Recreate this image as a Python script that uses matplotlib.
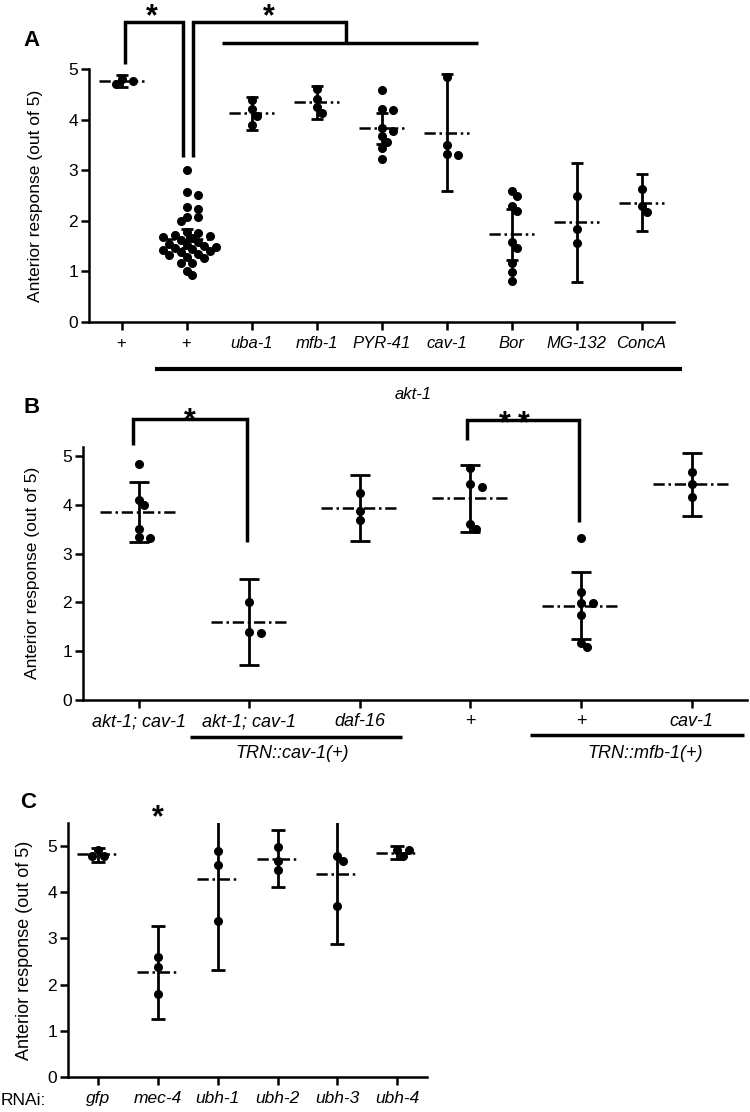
import numpy as np
import matplotlib.pyplot as plt

plt.rcParams['font.family'] = ['Liberation Sans', 'DejaVu Sans']

# panel A: akt-1 background + treatments
labels_a = ['+', '+', 'uba-1', 'mfb-1', 'PYR-41', 'cav-1', 'Bor', 'MG-132', 'ConcA']
pts_a = [
    [4.80, 4.70, 4.76],
    [3.00, 2.56, 2.51, 2.28, 2.23, 2.08, 2.07, 2.00,
     1.78, 1.75, 1.72, 1.70, 1.68, 1.66, 1.62, 1.58, 1.55, 1.52, 1.50,
     1.48, 1.46, 1.44, 1.42, 1.40, 1.38, 1.35, 1.32, 1.29, 1.26,
     1.16, 1.16, 1.01, 0.93],
    [4.38, 4.21, 4.08, 3.89],
    [4.61, 4.41, 4.24, 4.13],
    [4.59, 4.20, 4.18, 3.83, 3.77, 3.67, 3.56, 3.44, 3.23],
    [4.84, 3.50, 3.33, 3.31],
    [2.59, 2.50, 2.29, 2.19, 1.58, 1.47, 1.17, 0.99, 0.82],
    [2.50, 1.84, 1.57],
    [2.62, 2.29, 2.17],
]
mean_a = [4.76, 1.65, 4.13, 4.34, 3.83, 3.74, 1.74, 1.98, 2.36]
lo_a = [4.64, 1.46, 3.80, 4.01, 3.51, 2.58, 1.23, 0.79, 1.80]
hi_a = [4.875, 1.84, 4.45, 4.67, 4.13, 4.91, 2.24, 3.15, 2.92]

# panel B: rescue by TRN expression
labels_b = ['akt-1; cav-1', 'akt-1; cav-1', 'daf-16', '+', '+', 'cav-1']
pts_b = [
    [4.84, 4.11, 4.00, 3.50, 3.34, 3.32],
    [2.00, 1.40, 1.36],
    [4.24, 3.87, 3.70],
    [4.76, 4.44, 4.37, 3.61, 3.50],
    [3.32, 2.21, 1.99, 1.99, 1.73, 1.17, 1.09],
    [4.67, 4.44, 4.16],
]
mean_b = [3.85, 1.59, 3.93, 4.14, 1.93, 4.43]
lo_b = [3.24, 0.71, 3.27, 3.45, 1.25, 3.78]
hi_b = [4.47, 2.48, 4.61, 4.82, 2.62, 5.07]

# panel C: RNAi
labels_c = ['gfp', 'mec-4', 'ubh-1', 'ubh-2', 'ubh-3', 'ubh-4']
pts_c = [
    [4.91, 4.80, 4.78],
    [2.59, 2.38, 1.80],
    [4.89, 4.59, 3.38],
    [4.99, 4.69, 4.49],
    [4.80, 4.69, 3.70],
    [4.91, 4.91, 4.80],
]
mean_c = [4.83, 2.27, 4.30, 4.73, 4.40, 4.86]
lo_c = [4.67, 1.25, 2.32, 4.11, 2.88, 4.72]
hi_c = [4.97, 3.28, 6.28, 5.35, 5.92, 5.00]

W, H = 750, 1112
fig = plt.figure(figsize=(W / 100, H / 100), dpi=100)


def px_rect(left, top, right, bottom):
    return [left / W, 1 - bottom / H, (right - left) / W, (bottom - top) / H]


def swarm(ax, x0, vals, diam=6.8, step=5.8):
    # simple beeswarm in pixel space, like Prism scatter
    tr = ax.transData
    placed = []
    xs = np.zeros(len(vals))
    order = np.argsort(-np.asarray(vals))
    cands = [0]
    for k in range(1, 12):
        cands += [k, -k]
    for i in order:
        px0, py = tr.transform((x0, vals[i]))
        for k in cands:
            px = px0 + k * step
            if all((px - qx) ** 2 + (py - qy) ** 2 >= diam ** 2 for qx, qy in placed):
                break
        placed.append((px, py))
        xs[i] = tr.inverted().transform((px, py))[0]
    return xs


def setup(ax, ylim, nx, labels, fs, ylab_x, ylab_fs):
    ax.set_xlim(-0.5, nx - 0.5)
    ax.set_ylim(*ylim)
    ax.spines[['top', 'right']].set_visible(False)
    for s in ['left', 'bottom']:
        ax.spines[s].set_linewidth(1.8)
    ax.set_yticks(range(6))
    ax.set_xticks(range(nx))
    ax.set_xticklabels(labels, fontsize=fs)
    for t in ax.get_xticklabels():
        t.set_style('normal' if t.get_text() == '+' else 'italic')
    ax.tick_params(axis='both', width=1.8, length=6, labelsize=12.5)
    ax.tick_params(axis='x', pad=4, labelsize=fs)
    ax.tick_params(axis='y', pad=2)
    ax.set_ylabel('Anterior response (out of 5)', fontsize=ylab_fs)
    ax.yaxis.set_label_coords(ylab_x, 0.5)


def draw(ax, pts, means, lo, hi, capsize):
    for i, vals in enumerate(pts):
        xs = swarm(ax, i, vals)
        ax.plot(xs, vals, 'o', color='k', ms=5.5, zorder=3)
        ax.errorbar([i], [means[i]], yerr=[[means[i] - lo[i]], [hi[i] - means[i]]],
                    fmt='none', ecolor='k', elinewidth=2, capsize=capsize,
                    capthick=2, zorder=4)
        ax.plot([i - 0.35, i + 0.35], [means[i], means[i]], color='k', lw=1.8,
                ls=(0, (4.5, 1.5, 1, 1.5)), zorder=5)


def line(ax, xs, ys, lw=2.5):
    ax.plot(xs, ys, color='k', lw=lw, clip_on=False, solid_joinstyle='miter',
            solid_capstyle='butt')


def star(ax, x, y, s='*'):
    ax.text(x, y, s, fontsize=22, fontweight='bold', ha='center', va='baseline')


# ---- A ----
axA = fig.add_axes(px_rect(89, 69, 674, 322))
setup(axA, (0, 5), 9, labels_a, 12, -0.079, 12.5)
draw(axA, pts_a, mean_a, lo_a, hi_a, 4)
line(axA, [0.05, 0.05, 0.95, 0.95], [5.1, 5.93, 5.93, 3.26])
line(axA, [1.1, 1.1, 3.45, 3.45], [3.26, 5.93, 5.93, 5.51])
line(axA, [1.54, 5.49], [5.51, 5.51])
star(axA, 0.47, 5.86)
star(axA, 2.27, 5.86)
line(axA, [0.51, 8.63], [-0.93, -0.93], lw=3)
axA.text(4.49, -1.44, 'akt-1', fontsize=12, style='italic', ha='center', va='center')

# ---- B ----
axB = fig.add_axes(px_rect(83.3, 446.7, 747, 699.6))
setup(axB, (0, 5.2), 6, labels_b, 13, -0.065, 12.5)
draw(axB, pts_b, mean_b, lo_b, hi_b, 7.5)
line(axB, [-0.054, -0.054, 0.977, 0.977], [5.24, 5.77, 5.77, 3.25])
line(axB, [2.97, 2.97, 3.98, 3.98], [5.34, 5.74, 5.74, 3.66])
star(axB, 0.46, 5.56)
star(axB, 3.315, 5.50)
star(axB, 3.485, 5.50)
line(axB, [0.465, 2.384], [-0.776, -0.776])
line(axB, [3.54, 5.47], [-0.73, -0.73])
axB.text(1.39, -1.10, 'TRN::cav-1(+)', fontsize=13, style='italic', ha='center', va='center')
axB.text(4.58, -1.10, 'TRN::mfb-1(+)', fontsize=13, style='italic', ha='center', va='center')

# ---- C ----
axC = fig.add_axes(px_rect(68.3, 823.3, 427, 1076.7))
setup(axC, (0, 5.5), 6, labels_c, 12.5, -0.098, 13)
draw(axC, pts_c, mean_c, lo_c, hi_c, 4.7)
star(axC, 1.0, 5.44)
axC.text(-1.64, -0.51, 'RNAi:', fontsize=12.5, ha='left', va='center')

for lab, (x, y) in zip('ABC', [(31, 41), (32, 408), (28, 802)]):
    fig.text(x / W, 1 - y / H, lab, fontsize=16, fontweight='bold', ha='center', va='center')

fig.savefig('out.png', dpi=100)
